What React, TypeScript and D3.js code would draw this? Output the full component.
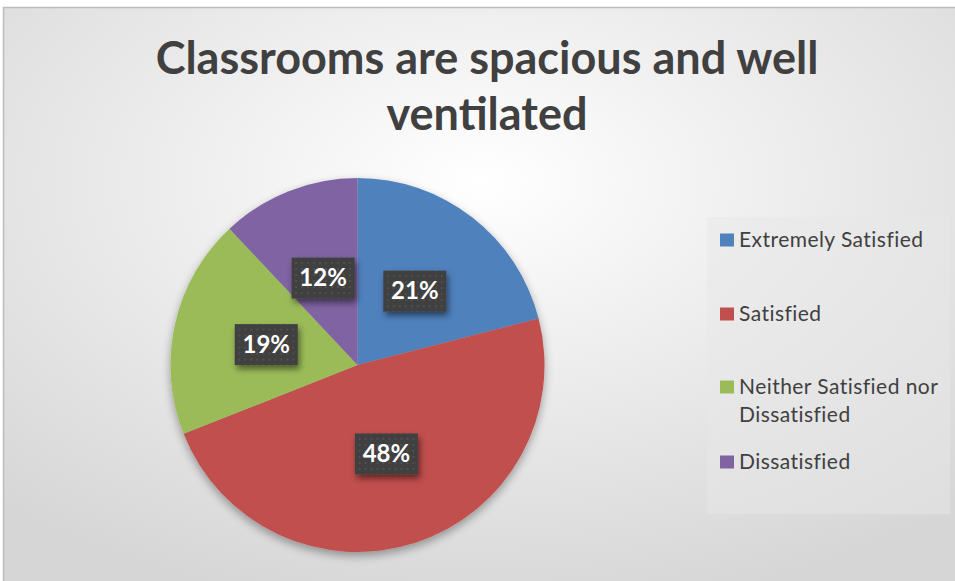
import React from "react";
import * as d3 from "d3";

const categories = ["Extremely Satisfied", "Satisfied", "Neither Satisfied nor Dissatisfied", "Dissatisfied"];
const legendLines = [["Extremely Satisfied"], ["Satisfied"], ["Neither Satisfied nor", "Dissatisfied"], ["Dissatisfied"]];
const values = [21, 48, 19, 12];
const colors = ["#4F81BD", "#C0504D", "#9BBB59", "#8064A2"];
const titleLines = ["Classrooms are spacious and well", "ventilated"];

const W = 955, H = 581;
const cx = 357.5, cy = 365, R = 187;

export default function App() {
  const pie = d3.pie<number>().sort(null).value((d) => d)(values);
  const arc = d3.arc<d3.PieArcDatum<number>>().innerRadius(0).outerRadius(R);
  const total = d3.sum(values);
  const legendY = [240, 314, 387, 462];
  return (
    <svg width={W} height={H} style={{ position: "absolute", left: 0, top: 0 }} fontFamily="Lato, 'Open Sans', sans-serif">
      <defs>
        <radialGradient id="bg" cx="0.5" cy="0.3" r="0.75">
          <stop offset="0" stopColor="#ffffff" />
          <stop offset="1" stopColor="#d6d6d6" />
        </radialGradient>
        <pattern id="dots" width="6" height="6" patternUnits="userSpaceOnUse">
          <rect width="6" height="6" fill="#404040" />
          <rect x="2" y="2" width="2" height="2" fill="#505050" />
        </pattern>
        <filter id="sh" x="-30%" y="-30%" width="160%" height="170%">
          <feGaussianBlur in="SourceAlpha" stdDeviation="3" />
          <feOffset dx="2" dy="4" result="b" />
          <feComponentTransfer><feFuncA type="linear" slope="0.5" /></feComponentTransfer>
          <feMerge><feMergeNode /><feMergeNode in="SourceGraphic" /></feMerge>
        </filter>
        <filter id="pieSh" x="-20%" y="-20%" width="140%" height="150%">
          <feGaussianBlur in="SourceAlpha" stdDeviation="5" />
          <feOffset dx="0" dy="4" />
          <feComponentTransfer><feFuncA type="linear" slope="0.35" /></feComponentTransfer>
          <feMerge><feMergeNode /><feMergeNode in="SourceGraphic" /></feMerge>
        </filter>
      </defs>
      <rect x={0} y={0} width={W} height={H} fill="#ffffff" />
      <rect x={3.5} y={7.5} width={W} height={H} fill="url(#bg)" stroke="#bcbcbc" strokeWidth={1.5} />
      <g fill="#404040" fontWeight="bold" fontSize={45} textAnchor="middle">
        {titleLines.map((t, i) => (
          <text key={i} x={487} y={74 + i * 56}>{t}</text>
        ))}
      </g>
      <g transform={`translate(${cx},${cy})`} filter="url(#pieSh)">
        {pie.map((p, i) => (
          <path key={i} d={arc(p) || ""} fill={colors[i]} />
        ))}
      </g>
      <g transform={`translate(${cx},${cy})`}>
        {pie.map((p, i) => {
          const a = (p.startAngle + p.endAngle) / 2;
          const r = R * 0.5;
          const x = Math.sin(a) * r;
          const y = -Math.cos(a) * r;
          const label = `${Math.round((values[i] / total) * 100)}%`;
          return (
            <g key={i} transform={`translate(${x},${y})`}>
              <rect x={-31.5} y={-20.5} width={63} height={41} fill="url(#dots)" filter="url(#sh)" />
              <text x={0} y={8} fill="#ffffff" fontWeight="bold" fontSize={24} textAnchor="middle">{label}</text>
            </g>
          );
        })}
      </g>
      <rect x={707} y={217} width={243} height={297} fill="#e8e8e8" opacity={0.5} />
      <g fontSize={21} fill="#404040" letterSpacing={0.45}>
        {legendLines.map((lines, i) => (
          <g key={i}>
            <rect x={720} y={legendY[i] - 6.5} width={14} height={13} fill={colors[i]} />
            {lines.map((l, j) => (
              <text key={j} x={739} y={legendY[i] + 7 + j * 28}>{l}</text>
            ))}
          </g>
        ))}
      </g>
    </svg>
  );
}
